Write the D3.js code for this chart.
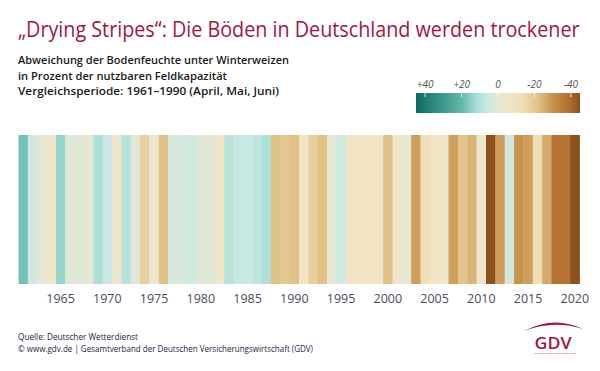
<!DOCTYPE html>
<html>
<head>
<meta charset="utf-8">
<script src="https://cdn.jsdelivr.net/npm/d3@7/dist/d3.min.js"></script>
<style>
  body { margin: 0; background: #fff; }
  svg { display: block; font-family: "Open Sans", "Noto Sans", sans-serif; }
</style>
</head>
<body>
<svg id="chart" width="600" height="371"></svg>
<script>
// Jahre 1961-2020
const years = [
  1961, 1962, 1963, 1964, 1965, 1966, 1967, 1968, 1969, 1970,
  1971, 1972, 1973, 1974, 1975, 1976, 1977, 1978, 1979, 1980,
  1981, 1982, 1983, 1984, 1985, 1986, 1987, 1988, 1989, 1990,
  1991, 1992, 1993, 1994, 1995, 1996, 1997, 1998, 1999, 2000,
  2001, 2002, 2003, 2004, 2005, 2006, 2007, 2008, 2009, 2010,
  2011, 2012, 2013, 2014, 2015, 2016, 2017, 2018, 2019, 2020
];
// Abweichung der Bodenfeuchte in % nFK (geschätzt aus der Grafik)
const moisture = [
  18, 4, 0, -5, 14, 1, 1, -1, 11, 6,
  -4, 9, 1, -18, -3, -22, 3, 3, 5, 1,
  1, -6, 9, 6, 6, 8, 11, -22, -20, -22,
  -7, -18, -22, 0, 5, -6, -8, -7, -7, -22,
  -5, -1, -28, -12, -7, -4, -28, -21, -24, -4,
  -45, -28, 4, -30, -28, -13, -26, -38, -38, -45
];
const yearTicks = [1965, 1970, 1975, 1980, 1985, 1990, 1995, 2000, 2005, 2010, 2015, 2020];
const legendTicks = [40, 20, 0, -20, -40];

// Farbskala (feucht = grün, trocken = braun)
const colorStops = [45, 20, 12, 6, 0, -6, -14, -22, -30, -38, -45];
const colorRange = ["#0b6b5f", "#62b8ab", "#a8ddd7", "#c8e9e3", "#e4e7d3", "#f2e5c6",
                    "#f0dcb4", "#e0c186", "#c9924f", "#b47333", "#8c511d"];

const svg = d3.select("#chart");
const red = "#a0173e";

const color = d3.scaleLinear().domain(colorStops).range(colorRange).clamp(true);

// Titel (schmal gestaucht, damit er wie im Original auf die Breite passt)
const title = svg.append("text")
  .style("font-size", "22.5px").style("fill", red)
  .text("„Drying Stripes“: Die Böden in Deutschland werden trockener");
const titleW = title.node().getComputedTextLength();
title.attr("transform", `translate(18,37) scale(${562 / titleW},1)`);

const subLines = [
  ["Abweichung der Bodenfeuchte unter Winterweizen", 271, 64],
  ["in Prozent der nutzbaren Feldkapazität", 209, 79.5],
  ["Vergleichsperiode: 1961–1990 (April, Mai, Juni)", 261, 95]
];
svg.selectAll("text.sub").data(subLines).enter().append("text")
  .attr("class", "sub")
  .attr("x", 18).attr("y", d => d[2])
  .attr("textLength", d => d[1]).attr("lengthAdjust", "spacingAndGlyphs")
  .style("font-size", "11.5px").style("font-weight", 600).style("fill", "#1a1a1a")
  .text(d => d[0]);

// Streifen
const x = d3.scaleBand().domain(years).range([18.5, 579.5]).padding(0);
const stripeTop = 135, stripeBottom = 284;

svg.append("g").attr("class", "stripes")
  .selectAll("rect").data(years).enter().append("rect")
  .attr("x", d => x(d))
  .attr("y", stripeTop)
  .attr("width", x.bandwidth() + 0.4)
  .attr("height", stripeBottom - stripeTop)
  .attr("fill", (d, i) => color(moisture[i]));

const xAxis = svg.append("g")
  .attr("transform", `translate(0,${stripeBottom})`)
  .call(d3.axisBottom(x).tickValues(yearTicks).tickSize(0).tickPadding(10.5));
xAxis.select(".domain").remove();
xAxis.selectAll("text")
  .style("font-family", "'Open Sans', sans-serif")
  .style("font-size", "12.5px").style("fill", "#4a4b5c");

// Legende
const lx = d3.scaleLinear().domain([45, -45]).range([416, 580]);
const grad = svg.append("defs").append("linearGradient").attr("id", "legendGrad");
grad.selectAll("stop").data(colorStops).enter().append("stop")
  .attr("offset", d => (45 - d) / 90)
  .attr("stop-color", d => color(d));

svg.append("rect")
  .attr("x", lx(45)).attr("y", 93)
  .attr("width", lx(-45) - lx(45)).attr("height", 20)
  .attr("fill", "url(#legendGrad)");

svg.selectAll("line.ltick").data(legendTicks).enter().append("line")
  .attr("class", "ltick")
  .attr("x1", d => lx(d)).attr("x2", d => lx(d))
  .attr("y1", 93).attr("y2", 97)
  .attr("stroke", "#fff").attr("stroke-opacity", 0.8);

svg.selectAll("text.llab").data(legendTicks).enter().append("text")
  .attr("class", "llab")
  .attr("x", d => lx(d)).attr("y", 88)
  .attr("text-anchor", "middle")
  .style("font-size", "10px").style("font-style", "italic").style("fill", "#555")
  .text(d => d > 0 ? "+" + d : d);

// Quelle
svg.append("text")
  .attr("x", 18).attr("y", 340)
  .attr("textLength", 120).attr("lengthAdjust", "spacingAndGlyphs")
  .style("font-size", "8.5px").style("fill", "#1d1d3d")
  .text("Quelle: Deutscher Wetterdienst");
svg.append("text")
  .attr("x", 18).attr("y", 351.5)
  .attr("textLength", 295).attr("lengthAdjust", "spacingAndGlyphs")
  .style("font-size", "8.5px").style("fill", "#1d1d3d")
  .text("© www.gdv.de | Gesamtverband der Deutschen Versicherungswirtschaft (GDV)");

// GDV-Logo
const logo = svg.append("g").attr("class", "logo");
logo.append("path")
  .attr("d", "M524,331 Q554,315 583,329 Q554,319.5 524,331 Z")
  .attr("fill", red);
logo.append("text")
  .attr("x", 553).attr("y", 349)
  .attr("text-anchor", "middle")
  .attr("textLength", 37).attr("lengthAdjust", "spacingAndGlyphs")
  .style("font-size", "16px").style("font-weight", 600).style("fill", red)
  .text("GDV");
logo.append("line")
  .attr("x1", 535).attr("x2", 576).attr("y1", 353.5).attr("y2", 353.5)
  .attr("stroke", red).attr("stroke-opacity", 0.5)
  .attr("stroke-dasharray", "1,0.6");
</script>
</body>
</html>
